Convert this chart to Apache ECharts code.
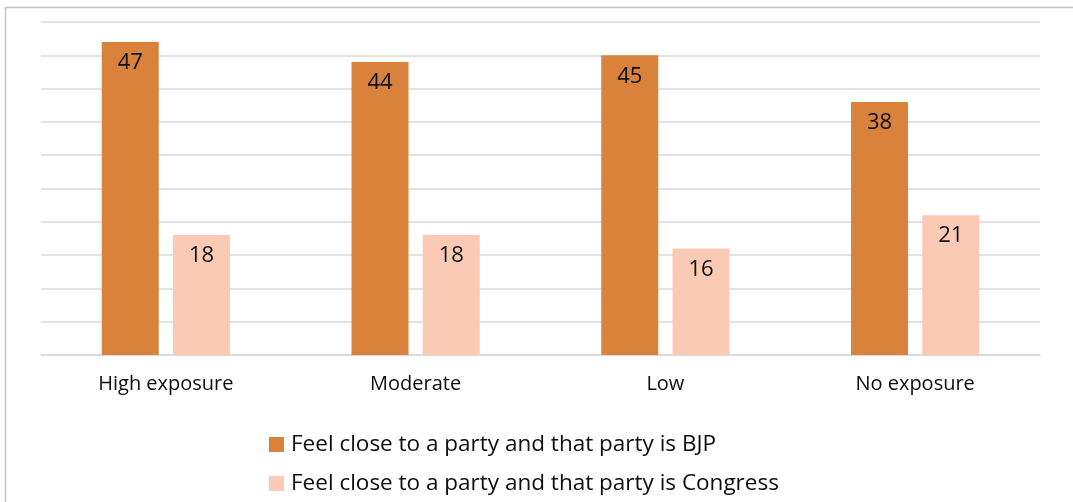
<!DOCTYPE html>
<html><head><meta charset="utf-8">
<script src="https://cdn.jsdelivr.net/npm/echarts@6/dist/echarts.min.js"></script>
<style>html,body{margin:0;padding:0;background:#fff}#c{width:1073px;height:502px}</style>
</head><body><div id="c"></div>
<script>
const categories = ['High exposure', 'Moderate', 'Low', 'No exposure'];
const bjpValues = [47, 44, 45, 38];
const congressValues = [18, 18, 16, 21];
const seriesNames = ['Feel close to a party and that party is BJP', 'Feel close to a party and that party is Congress'];

const FONT = 'Open Sans';
const chart = echarts.init(document.getElementById('c'), null, {renderer: 'canvas'});
chart.setOption({
  animation: false,
  backgroundColor: '#fff',
  textStyle: {fontFamily: FONT},
  graphic: [{
    type: 'rect', shape: {x: 5.5, y: 7.5, width: 1200, height: 700},
    style: {fill: null, stroke: '#c4c4c4', lineWidth: 1.5}, silent: true
  }],
  grid: {left: 41, right: 33, top: 22, bottom: 147},
  legend: {
    orient: 'vertical', left: 264, top: 428,
    itemWidth: 15, itemHeight: 15, itemGap: 16,
    icon: 'rect',
    textStyle: {fontFamily: FONT, fontSize: 22.5, lineHeight: 22, color: '#0d0d0d', padding: [0, 0, 0, 2]},
    data: seriesNames
  },
  xAxis: {
    type: 'category', data: categories,
    axisLine: {lineStyle: {color: '#d9d9d9', width: 1.5}},
    axisTick: {show: false},
    axisLabel: {fontFamily: FONT, fontSize: 20, color: '#0d0d0d', margin: 19}
  },
  yAxis: {
    type: 'value', min: 0, max: 50, interval: 5,
    axisLabel: {show: false}, axisLine: {show: false}, axisTick: {show: false},
    splitLine: {lineStyle: {color: '#d9d9d9', width: 1.5}}
  },
  series: [
    {name: seriesNames[0], type: 'bar', data: bjpValues, barWidth: 57, barGap: '25%',
     itemStyle: {color: '#D9823C'},
     label: {show: true, position: 'insideTop', distance: 10, fontFamily: FONT, fontSize: 22, color: '#0d0d0d'}},
    {name: seriesNames[1], type: 'bar', data: congressValues, barWidth: 57,
     itemStyle: {color: '#FBCAB4'},
     label: {show: true, position: 'insideTop', distance: 10, fontFamily: FONT, fontSize: 22, color: '#0d0d0d'}}
  ]
});
</script></body></html>
